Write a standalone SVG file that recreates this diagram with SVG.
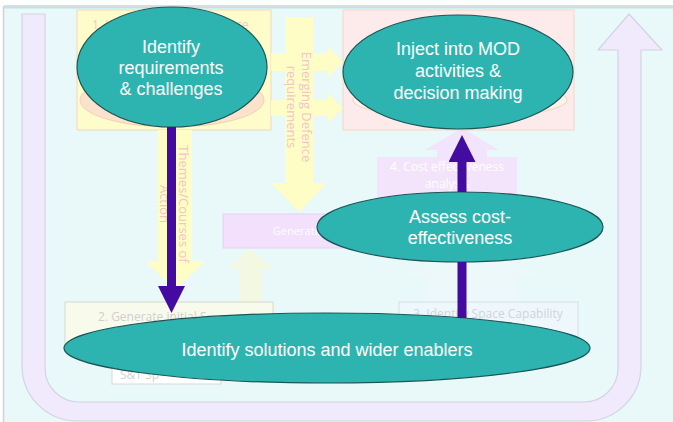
<svg xmlns="http://www.w3.org/2000/svg" width="673" height="422" viewBox="0 0 673 422">
<style>
.bigtxt{font-family:"Liberation Sans",Arial,sans-serif;font-size:18px;fill:#ffffff;text-anchor:middle}
.oval{fill:#2eb4b0;stroke:#1c5656;stroke-width:1.2}
.faint{font-family:"Open Sans","Liberation Sans",sans-serif;font-size:12px}
.rot{font-family:"Open Sans","Liberation Sans",sans-serif;font-size:13px;fill:#f2c4c6;text-anchor:middle}
.yel{fill:#fefdc6}
.conn{stroke:#440ba0;stroke-width:9;fill:none}
</style>
<defs>
<marker id="head" viewBox="0 0 27 27" markerWidth="27" markerHeight="27" markerUnits="userSpaceOnUse" refX="0" refY="13.5" orient="auto">
<path d="M0,0 L27,13.5 L0,27 Z" fill="#440ba0"/>
</marker>
</defs>
<rect x="0" y="0" width="673" height="422" fill="#ffffff"/>
<rect x="4" y="6" width="670" height="417" fill="#e9f9f9"/>
<line x1="4" y1="6" x2="673" y2="6" stroke="#d2d2d2" stroke-width="1.5"/>
<line x1="4" y1="7.8" x2="673" y2="7.8" stroke="#b6e8e8" stroke-width="1.5"/>
<line x1="3.5" y1="6" x2="3.5" y2="422" stroke="#d2d2d2" stroke-width="1.5"/>

<g id="cycle-arrow">
<path d="M22,14 H45 V368 A34,34 0 0 0 79,402 H584 A34,34 0 0 0 618,368 V50 H598 L629,14 L662,50 H641 V366 A55,55 0 0 1 586,421 H77 A55,55 0 0 1 22,366 Z" fill="#f1e9fc" stroke="#d2d4e2" stroke-width="1.2"/>
</g>

<g id="background-shapes">
<polygon points="427,302 427,276 404,276 462,240 540,276 515,276 515,302" fill="#ecf8fa"/>
<polygon points="239,302 239,269 228,269 250,248 273,269 262,269 262,302" fill="#f3f8e2"/>
<polygon points="425,150 462,128 499,150 487,150 487,158 437,158 437,150" fill="#f1e4fc"/>
</g>

<g id="box-2">
<rect x="65" y="302" width="208" height="43" fill="#f8fbec" stroke="#d8d8cc" stroke-width="1"/>
<text x="98" y="321" class="faint" fill="#cfcfcf">2. Generate initial S</text>
<rect x="112" y="360" width="109" height="24" fill="#ffffff" stroke="#d8d8d8" stroke-width="1"/>
<text x="120" y="379" class="faint" fill="#d2d2d2">S&amp;T Sp</text>
</g>

<g id="box-3">
<rect x="399" y="302" width="179" height="48" fill="#eef8fc" stroke="#d6dee6" stroke-width="1"/>
<text x="488" y="318" class="faint" fill="#d0d4dc" text-anchor="middle">3. Identify Space Capability</text>
</g>

<g id="box-generate">
<rect x="223" y="214" width="160" height="34" fill="#f2e0fc" stroke="#e6d2f0" stroke-width="1"/>
<text x="273" y="235" font-family="'Open Sans','Liberation Sans',sans-serif" font-size="11" fill="#ffffff">Generate</text>
</g>

<g id="box-4-cost">
<rect x="377" y="157" width="140" height="43" fill="#f3e4fc"/>
<text x="447" y="171" class="faint" fill="#ffffff" text-anchor="middle">4. Cost effectiveness</text>
<text x="447" y="188" class="faint" fill="#ffffff" text-anchor="middle">analysis</text>
</g>

<g id="box-1">
<rect x="77" y="10" width="194" height="120" fill="#fefccb" stroke="#f4dcc4" stroke-width="1.2"/>
<text x="92" y="29" class="faint" fill="#f2c8c8">1. I</text>
<text x="236" y="29" class="faint" fill="#f2c8c8">ce</text>
<ellipse cx="172" cy="100" rx="92" ry="27" fill="#fbe2cc" stroke="#f0d2b4" stroke-width="1"/>
</g>

<g id="box-4">
<rect x="343" y="10" width="231" height="120" fill="#fdeaea" stroke="#f4dcc8" stroke-width="1.2"/>
<ellipse cx="460" cy="100" rx="107" ry="18" fill="#fdf2ec" stroke="#f0d8c4" stroke-width="1.2"/>
</g>

<g id="yellow-arrows">
<polygon class="yel" points="271,53 328,53 328,47 343,62 328,77 328,71 271,71"/>
<polygon class="yel" points="271,100 328,100 328,93 343,108 328,123 328,116 271,116"/>
<polygon class="yel" points="285,17 313,17 313,183 327,183 299,212 271,183 285,183"/>
<polygon class="yel" points="158,130 192,130 192,261 205,261 175,290 145,261 158,261"/>
<text class="rot" transform="translate(302,107) rotate(90)">Emerging Defence<tspan x="0" dy="15">requirements</tspan></text>
<text class="rot" transform="translate(179,204) rotate(90)">Themes/Courses of<tspan x="0" dy="19">Action</tspan></text>
</g>

<g id="node-identify-requirements">
<ellipse class="oval" cx="172" cy="67" rx="95" ry="60"/>
<text class="bigtxt" x="171" y="53">Identify</text>
<text class="bigtxt" x="171" y="74">requirements</text>
<text class="bigtxt" x="171" y="95">&amp; challenges</text>
</g>

<g id="node-inject">
<ellipse class="oval" cx="458" cy="72" rx="115" ry="57"/>
<text class="bigtxt" x="458" y="55">Inject into MOD</text>
<text class="bigtxt" x="458" y="77">activities &amp;</text>
<text class="bigtxt" x="458" y="99">decision making</text>
</g>

<g id="node-assess">
<ellipse class="oval" cx="460" cy="227" rx="143" ry="35"/>
<text class="bigtxt" x="460" y="223">Assess cost-</text>
<text class="bigtxt" x="460" y="244">effectiveness</text>
</g>

<g id="node-solutions">
<ellipse class="oval" cx="327" cy="348" rx="263" ry="35"/>
<text class="bigtxt" x="327" y="356">Identify solutions and wider enablers</text>
</g>

<g id="connectors">
<line class="conn" x1="171.5" y1="127" x2="171.5" y2="286" marker-end="url(#head)"/>
<line class="conn" x1="462" y1="318" x2="462" y2="262"/>
<line class="conn" x1="462" y1="192" x2="462" y2="162" marker-end="url(#head)"/>
</g>
</svg>
